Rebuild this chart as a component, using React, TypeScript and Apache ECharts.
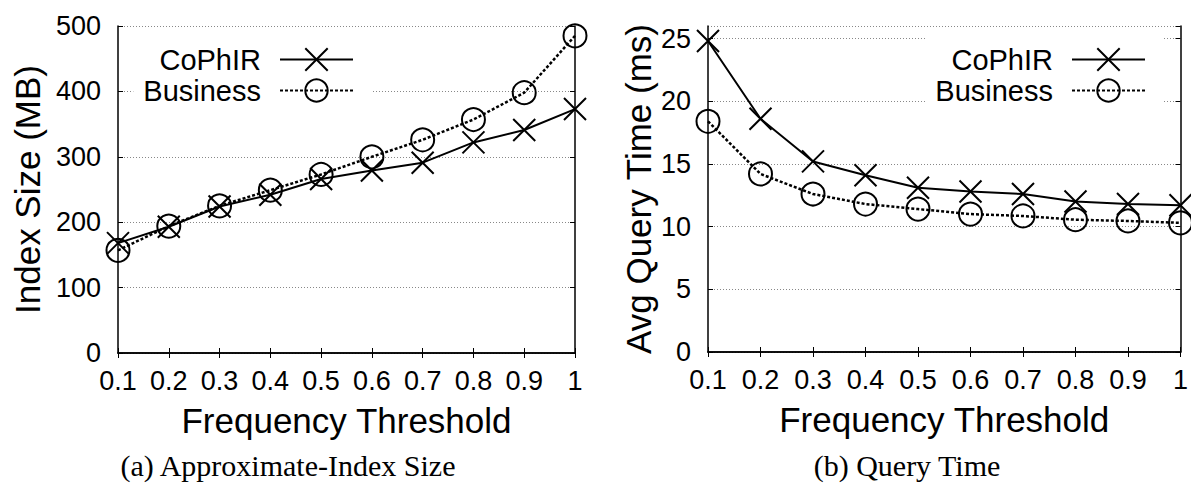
import React, { useEffect, useRef } from "react";
import * as echarts from "echarts";

const thresholds = ["0.1", "0.2", "0.3", "0.4", "0.5", "0.6", "0.7", "0.8", "0.9", "1"];
const sizeCoPhIR = [168, 193, 224, 242, 266, 279, 291, 322, 341, 373];
const sizeBusiness = [157, 194, 225, 249, 273, 300, 326, 357, 398, 485];
const timeCoPhIR = [24.8, 18.6, 15.2, 14.1, 13.1, 12.8, 12.6, 12.0, 11.8, 11.7];
const timeBusiness = [18.4, 14.2, 12.6, 11.8, 11.4, 11.0, 10.85, 10.55, 10.45, 10.3];
const seriesNames = ["CoPhIR", "Business"];
const captions = ["(a) Approximate-Index Size", "(b) Query Time"];
const xName = "Frequency Threshold";
const yNames = ["Index Size (MB)", "Avg Query Time (ms)"];

const FONT = "'Liberation Sans', Arial, Helvetica, sans-serif";
const SERIF = "'Liberation Serif', 'Times New Roman', serif";
const X_SYMBOL = "path://M0,0L10,10M10,0L0,10";

export default function App() {
  const ref = useRef<HTMLDivElement>(null);
  useEffect(() => {
    document.body.style.margin = "0";
    if (!ref.current) return;
    const chart = echarts.init(ref.current, undefined, { renderer: "svg" });

    const axisLine = { show: true, lineStyle: { color: "#000", width: 1.5 } };
    const tick = { show: true, inside: true, length: 5, lineStyle: { color: "#000", width: 1 } };
    const grid = [
      { left: 118, top: 26, width: 457, height: 327 },
      { left: 708, top: 26, width: 474, height: 326 },
    ];
    const xAxis: any[] = [];
    const yAxis: any[] = [];
    const yRanges = [
      { min: 0, max: 500, interval: 100 },
      { min: 0, max: 26, interval: 5 },
    ];
    const yGaps = [73, 52];
    [0, 1].forEach((g) => {
      xAxis.push({
        type: "category",
        gridIndex: g,
        data: thresholds,
        boundaryGap: false,
        position: "bottom",
        axisLine,
        axisTick: { ...tick, interval: 0 },
        axisLabel: { interval: 0, margin: 14, color: "#000", fontSize: 27, fontFamily: FONT, hideOverlap: false },
        name: xName,
        nameLocation: "middle",
        nameGap: 50,
        nameTextStyle: { color: "#000", fontSize: 35, fontFamily: FONT },
        splitLine: { show: false },
      });
      xAxis.push({
        type: "category",
        gridIndex: g,
        data: thresholds,
        boundaryGap: false,
        position: "top",
        axisLine,
        axisTick: { ...tick, interval: 0 },
        axisLabel: { show: false },
        splitLine: { show: false },
      });
      yAxis.push({
        type: "value",
        gridIndex: g,
        position: "left",
        ...yRanges[g],
        axisLine,
        axisTick: tick,
        axisLabel: { margin: 17, color: "#000", fontSize: 27, fontFamily: FONT, showMaxLabel: g === 0 },
        splitLine: { show: true, lineStyle: { color: "#888", width: 1, type: [1, 2] } },
        name: yNames[g],
        nameLocation: "middle",
        nameGap: yGaps[g],
        nameRotate: 90,
        nameTextStyle: { color: "#000", fontSize: 35, fontFamily: FONT },
      });
      yAxis.push({
        type: "value",
        gridIndex: g,
        position: "right",
        ...yRanges[g],
        axisLine,
        axisTick: tick,
        axisLabel: { show: false },
        splitLine: { show: false },
      });
    });

    const mk = (name: string, data: number[], g: number, dotted: boolean) => ({
      type: "line",
      name,
      data,
      xAxisIndex: g * 2,
      yAxisIndex: g * 2,
      symbol: dotted ? "circle" : X_SYMBOL,
      symbolSize: dotted ? 23 : 22,
      clip: false,
      itemStyle: { color: "rgba(0,0,0,0)", borderColor: "#000", borderWidth: 2 },
      lineStyle: { color: "#000", width: dotted ? 2.5 : 2, type: dotted ? [3, 2] : "solid" },
      z: dotted ? 3 : 4,
    });

    const legendBase = {
      orient: "vertical",
      align: "right",
      top: 35,
      itemWidth: 73,
      itemHeight: 28,
      itemGap: 2,
      padding: [10, 18, 10, 10],
      backgroundColor: "#fff",
      data: seriesNames,
      selectedMode: false,
      itemStyle: { borderWidth: 2 },
      textStyle: { color: "#000", fontSize: 29, fontFamily: FONT, lineHeight: 28, padding: [0, 14, 0, 0] },
    };

    chart.setOption({
      animation: false,
      backgroundColor: "#fff",
      grid,
      xAxis,
      yAxis,
      legend: [
        { ...legendBase, right: 819 },
        { ...legendBase, right: 27 },
      ],
      series: [
        mk(seriesNames[0], sizeCoPhIR, 0, false),
        mk(seriesNames[1], sizeBusiness, 0, true),
        mk(seriesNames[0], timeCoPhIR, 1, false),
        mk(seriesNames[1], timeBusiness, 1, true),
      ],
      graphic: [
        {
          type: "text",
          x: 288,
          y: 465,
          style: { text: captions[0], fill: "#000", font: `30px ${SERIF}`, align: "center", verticalAlign: "middle" },
        },
        {
          type: "text",
          x: 907,
          y: 465,
          style: { text: captions[1], fill: "#000", font: `30px ${SERIF}`, align: "center", verticalAlign: "middle" },
        },
      ],
    });
    return () => chart.dispose();
  }, []);
  return <div ref={ref} style={{ width: 1191, height: 485 }} />;
}
